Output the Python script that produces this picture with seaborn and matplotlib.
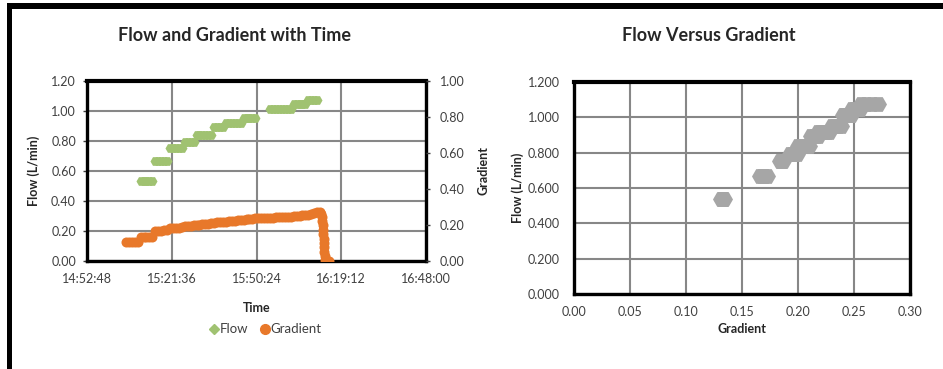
import numpy as np
import pandas as pd
import seaborn as sns
import matplotlib.pyplot as plt
import matplotlib.dates as mdates
from matplotlib.patches import Rectangle
from matplotlib.lines import Line2D

# Data
nan = np.nan
times = ['15:06:00', '15:07:00', '15:08:00', '15:09:00', '15:10:00',
         '15:11:00', '15:12:00', '15:13:00', '15:14:00', '15:15:00',
         '15:16:00', '15:17:00', '15:18:00', '15:19:00', '15:20:00',
         '15:21:00', '15:22:00', '15:23:00', '15:24:00', '15:25:00',
         '15:26:00', '15:27:00', '15:28:00', '15:29:00',
         '15:30:00', '15:31:00', '15:32:00', '15:33:00', '15:34:00', '15:35:00',
         '15:36:00', '15:37:00', '15:38:00', '15:39:00',
         '15:40:00', '15:41:00', '15:42:00', '15:43:00', '15:44:00', '15:45:00',
         '15:46:00', '15:47:00', '15:48:00', '15:49:00', '15:50:00',
         '15:51:00', '15:52:00', '15:53:00', '15:54:00',
         '15:55:00', '15:56:00', '15:57:00', '15:58:00', '15:59:00', '16:00:00', '16:01:00', '16:02:00',
         '16:03:00', '16:04:00', '16:05:00', '16:06:00', '16:07:00',
         '16:08:00', '16:09:00', '16:10:00', '16:11:00',
         '16:12:00', '16:12:15', '16:12:30', '16:12:40', '16:12:50', '16:13:00',
         '16:13:05', '16:13:10', '16:13:15', '16:13:20', '16:13:25', '16:13:30',
         '16:13:40', '16:14:00', '16:14:30', '16:15:00']

flow = [nan, nan, nan, nan, nan,
        0.535, 0.535, 0.535, 0.535, 0.535,
        0.667, 0.667, 0.667, 0.667, 0.667,
        0.751, 0.751, 0.751, 0.751, 0.751,
        0.795, 0.795, 0.795, 0.795,
        0.840, 0.840, 0.840, 0.840, 0.840, 0.840,
        0.895, 0.895, 0.895, 0.895,
        0.918, 0.918, 0.918, 0.918, 0.918, 0.918,
        0.951, 0.951, 0.951, 0.951, 0.951,
        nan, nan, nan, nan,
        1.013, 1.013, 1.013, 1.013, 1.013, 1.013, 1.013, 1.013,
        1.047, 1.047, 1.047, 1.047, 1.047,
        1.073, 1.073, 1.073, 1.073,
        nan, nan, nan, nan, nan, nan,
        nan, nan, nan, nan, nan, nan,
        nan, nan, nan, nan]

gradient = [0.105, 0.105, 0.107, 0.107, 0.108,
            0.131, 0.132, 0.133, 0.133, 0.134,
            0.166, 0.168, 0.169, 0.170, 0.172,
            0.184, 0.185, 0.185, 0.186, 0.187,
            0.193, 0.195, 0.197, 0.199,
            0.200, 0.202, 0.204, 0.206, 0.208, 0.210,
            0.212, 0.214, 0.216, 0.218,
            0.218, 0.220, 0.222, 0.224, 0.226, 0.228,
            0.230, 0.232, 0.234, 0.236, 0.238,
            0.238, 0.239, 0.239, 0.240,
            0.240, 0.241, 0.242, 0.243, 0.244, 0.245, 0.246, 0.247,
            0.248, 0.250, 0.252, 0.254, 0.255,
            0.256, 0.261, 0.266, 0.271,
            0.272, 0.262, 0.245, 0.222, 0.198, 0.172,
            0.148, 0.124, 0.100, 0.076, 0.052, 0.028,
            0.008, 0.000, 0.000, 0.000]

time_ticks = ['14:52:48', '15:21:36', '15:50:24', '16:19:12', '16:48:00']

df = pd.DataFrame({'Time': pd.to_datetime(['2000-01-01 ' + t for t in times]),
                   'Flow': flow, 'Gradient': gradient})
tick_dt = pd.to_datetime(['2000-01-01 ' + t for t in time_ticks])

sns.set_style('white')
plt.rcParams['font.family'] = ['Lato', 'DejaVu Sans']

GREEN = '#A0C271'
ORANGE = '#E8782A'
GREY = '#A6A6A6'
TICK_C = '#404040'
GRID_C = '#878787'

fig = plt.figure(figsize=(9.43, 3.69), dpi=100)


def style_axes(ax):
    ax.grid(True, color=GRID_C, linewidth=1.5)
    ax.set_axisbelow(True)
    for side in ['left', 'right', 'top', 'bottom']:
        ax.spines[side].set_color('black')
        ax.spines[side].set_linewidth(2.4)
    ax.spines['top'].set_linewidth(3)
    ax.tick_params(colors=TICK_C, labelsize=9, length=3, width=1, pad=6)


# ---- Left chart: flow and gradient with time
ax1 = fig.add_axes([0.0923, 0.2927, 0.3595, 0.4878])
ax2 = ax1.twinx()
sns.scatterplot(data=df, x='Time', y='Flow', ax=ax1, marker='H', s=52,
                color=GREEN, linewidth=0, legend=False)
sns.scatterplot(data=df, x='Time', y='Gradient', ax=ax2, marker='o', s=52,
                color=ORANGE, linewidth=0, legend=False)
style_axes(ax1)
ax1.set_xlim(tick_dt[0], tick_dt[-1])
ax1.set_xticks(tick_dt)
ax1.xaxis.set_major_formatter(mdates.DateFormatter('%H:%M:%S'))
ax1.set_ylim(0, 1.2)
ax1.set_yticks(np.linspace(0, 1.2, 7))
ax1.yaxis.set_major_formatter(plt.FormatStrFormatter('%.2f'))
ax1.tick_params(axis='y', pad=5)
ax2.set_ylim(0, 1.0)
ax2.set_yticks(np.linspace(0, 1.0, 6))
ax2.yaxis.set_major_formatter(plt.FormatStrFormatter('%.2f'))
ax2.tick_params(colors=TICK_C, labelsize=9, length=3, width=1, pad=7)
ax2.grid(False)
for side in ax2.spines:
    ax2.spines[side].set_visible(False)
ax1.set_xlabel('Time', fontsize=9, fontweight='bold', labelpad=12)
ax1.set_ylabel('Flow (L/min)', fontsize=9, fontweight='bold', labelpad=8)
ax2.set_ylabel('Gradient', fontsize=9, fontweight='bold', labelpad=9)
fig.text(0.249, 0.905, 'Flow and Gradient with Time', ha='center', va='center',
         fontsize=13, fontweight='bold')

handles = [Line2D([], [], marker='D', color=GREEN, linestyle='none', markersize=5),
           Line2D([], [], marker='o', color=ORANGE, linestyle='none', markersize=7)]
fig.legend(handles, ['Flow', 'Gradient'], loc='center', bbox_to_anchor=(0.2815, 0.108),
           ncol=2, frameon=False, fontsize=9.5, handlelength=0.7, handletextpad=0.1,
           columnspacing=0.9, labelcolor=TICK_C)

# ---- Right chart: flow versus gradient
ax3 = fig.add_axes([0.6087, 0.2033, 0.3563, 0.5745])
sns.scatterplot(data=df.dropna(), x='Gradient', y='Flow', ax=ax3, marker='H', s=150,
                color=GREY, linewidth=0)
style_axes(ax3)
ax3.set_xlim(0, 0.30)
ax3.set_xticks(np.linspace(0, 0.30, 7))
ax3.xaxis.set_major_formatter(plt.FormatStrFormatter('%.2f'))
ax3.set_ylim(0, 1.2)
ax3.set_yticks(np.linspace(0, 1.2, 7))
ax3.yaxis.set_major_formatter(plt.FormatStrFormatter('%.3f'))
ax3.tick_params(axis='y', pad=7)
ax3.set_xlabel('Gradient', fontsize=9, fontweight='bold', labelpad=3)
ax3.set_ylabel('Flow (L/min)', fontsize=9, fontweight='bold', labelpad=3)
fig.text(0.752, 0.905, 'Flow Versus Gradient', ha='center', va='center',
         fontsize=13, fontweight='bold')

# black frame strips (top and left)
fig.add_artist(Rectangle((0.0074, 0.9756), 0.9926, 0.0163, transform=fig.transFigure,
                         color='black', lw=0))
fig.add_artist(Rectangle((0.0074, 0.0), 0.0053, 0.9919, transform=fig.transFigure,
                         color='black', lw=0))

fig.savefig('out.png', dpi=100)
